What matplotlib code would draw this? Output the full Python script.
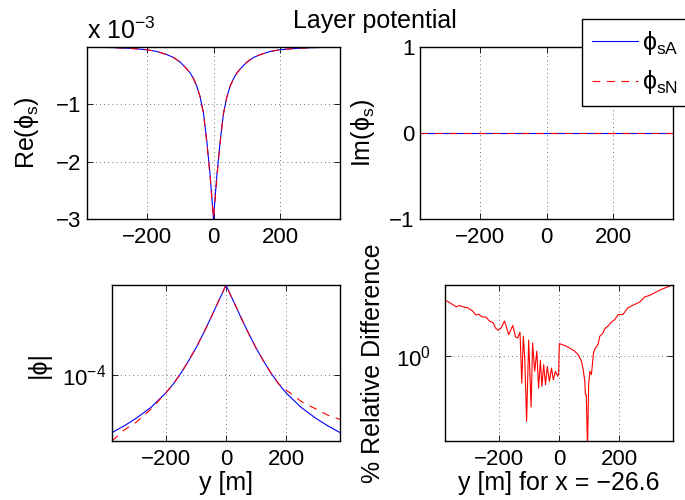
import matplotlib
matplotlib.use("Agg")
import matplotlib.pyplot as plt
from matplotlib.ticker import FixedLocator, NullLocator

plt.rcParams['font.family'] = ['Liberation Sans', 'DejaVu Sans']
plt.rcParams['mathtext.fontset'] = 'custom'
plt.rcParams['mathtext.rm'] = 'Liberation Sans'
plt.rcParams['mathtext.it'] = 'Liberation Sans:italic'
plt.rcParams['mathtext.bf'] = 'Liberation Sans:bold'
plt.rcParams['axes.unicode_minus'] = True

# --- data ---
# Re(phi_s), units of 1e-3
y_re = [-380, -300, -250, -200, -170, -140, -120, -100, -80, -70, -60, -50, -40, -30,
        -20, -15, -10, -5, 0, 5, 10, 15, 20, 30, 40, 50, 60, 70, 80, 100, 120, 140,
        170, 200, 250, 300, 380]
re_A = [-0.007, -0.018, -0.03, -0.055, -0.085, -0.14, -0.19, -0.27, -0.39, -0.46, -0.56,
        -0.69, -0.88, -1.16, -1.65, -1.95, -2.25, -2.62, -3.0, -2.62, -2.25, -1.95, -1.65,
        -1.16, -0.88, -0.69, -0.56, -0.46, -0.39, -0.27, -0.19, -0.14, -0.085, -0.055,
        -0.03, -0.018, -0.007]
re_N = [-0.007, -0.018, -0.03, -0.055, -0.085, -0.14, -0.19, -0.27, -0.39, -0.46, -0.56,
        -0.69, -0.88, -1.17, -1.67, -1.97, -2.28, -2.66, -2.98, -2.66, -2.28, -1.97, -1.67,
        -1.17, -0.88, -0.69, -0.56, -0.46, -0.39, -0.27, -0.19, -0.14, -0.085, -0.055,
        -0.03, -0.018, -0.007]

# Im(phi_s)
y_im = [-380, 0, 380]
im_A = [0.0, 0.0, 0.0]
im_N = [0.0, 0.0, 0.0]

# |phi|
y_abs = [-380, -340, -300, -250, -200, -175, -150, -125, -100, -75, -50, -30, -15, 0,
         15, 30, 50, 75, 100, 125, 150, 175, 200, 250, 300, 340, 380]
abs_A = [2.69e-5, 3.13e-5, 3.72e-5, 4.79e-5, 6.68e-5, 8.22e-5, 1.047e-4, 1.38e-4, 1.86e-4,
         2.60e-4, 3.72e-4, 5.01e-4, 6.24e-4, 7.82e-4, 6.24e-4, 5.01e-4, 3.72e-4, 2.60e-4,
         1.86e-4, 1.38e-4, 1.047e-4, 8.22e-5, 6.68e-5, 4.79e-5, 3.72e-5, 3.13e-5, 2.69e-5]
abs_N = [2.22e-5, 2.85e-5, 3.40e-5, 4.60e-5, 6.68e-5, 8.22e-5, 1.047e-4, 1.38e-4, 1.86e-4,
         2.60e-4, 3.72e-4, 5.01e-4, 6.24e-4, 7.82e-4, 6.24e-4, 5.01e-4, 3.72e-4, 2.60e-4,
         1.86e-4, 1.38e-4, 1.047e-4, 8.22e-5, 7.14e-5, 5.50e-5, 4.60e-5, 4.00e-5, 3.63e-5]

# % relative difference
y_rel = [-379, -360, -343, -332, -321, -304, -288, -277, -268, -257, -243, -232, -219,
         -212, -203, -193, -182, -176, -168, -154, -145, -138, -130, -124, -119, -114,
         -108, -101, -93, -88, -81, -74, -68, -62, -57, -51, -45, -39, -32, -25, -19,
         -12, -4, -1, 1, 19, 36, 52, 64, 75, 81, 86, 88, 91, 95, 99, 103, 108, 115, 121,
         130, 136, 147, 152, 163, 175, 186, 197, 213, 230, 252, 269, 286, 302, 319, 341,
         363, 380]
rel = [3.58, 3.31, 3.07, 3.16, 3.07, 3.00, 2.78, 2.54, 2.59, 2.44, 2.42, 2.21, 2.12,
       1.89, 1.79, 1.89, 2.21, 1.97, 1.62, 2.00, 1.54, 1.50, 1.71, 0.533, 1.56, 0.912,
       0.221, 1.43, 0.307, 1.34, 0.698, 1.11, 0.475, 0.90, 0.494, 0.813, 0.513, 0.783,
       0.555, 0.753, 0.575, 0.698, 0.622, 0.671, 1.32, 1.26, 1.19, 1.11, 1.02, 0.879,
       0.714, 0.555, 0.407, 0.407, 0.12, 0.533, 0.698, 0.646, 1.06, 1.19, 1.29, 1.56,
       1.69, 1.85, 1.97, 2.16, 2.29, 2.57, 2.57, 3.00, 3.24, 3.42, 3.86, 3.98, 4.24,
       4.57, 4.86, 5.09]

xticks = [-200, 0, 200]
FS = 16      # tick labels
LFS = 18     # labels, title, legend
W, H = 685, 500
DASH = (0, (7, 6))

fig = plt.figure(figsize=(6.85, 5.0), dpi=100)


def box(l, t, r, b):
    return [l / W, 1 - b / H, (r - l) / W, (b - t) / H]


def style(ax, pad_y=4):
    ax.set_xlim(-380, 380)
    ax.xaxis.set_major_locator(FixedLocator(xticks))
    ax.xaxis.set_minor_locator(NullLocator())
    ax.yaxis.set_minor_locator(NullLocator())
    ax.tick_params(direction='in', length=4, width=0.6, top=True, right=True,
                   labelsize=FS, colors='black')
    ax.tick_params(axis='x', pad=6)
    ax.tick_params(axis='y', pad=pad_y)
    ax.grid(True, color='0.25', linestyle=(0, (1, 4)), linewidth=0.6)
    for s in ax.spines.values():
        s.set_linewidth(1.0)


def vlabel(x, y, s):
    fig.text(x / W, 1 - y / H, s, fontsize=LFS, rotation=90, ha='center', va='center')


# top left: real part
ax1 = fig.add_axes(box(87, 47, 340, 219))
ax1.plot(y_re, re_A, color='blue', lw=0.8)
ax1.plot(y_re, re_N, color='red', lw=0.8, ls=DASH)
style(ax1)
ax1.set_ylim(-3.0, max(re_A))
ax1.yaxis.set_major_locator(FixedLocator([-3, -2, -1]))
fig.text(87 / W, 1 - 39 / H, 'x 10$^{\u22123}$', fontsize=LFS, va='baseline', ha='left')
vlabel(27, 133, 'Re(\u03d5$_{\\rm s}$)')

# top right: imaginary part
ax2 = fig.add_axes(box(420, 47, 673, 219))
lA, = ax2.plot(y_im, im_A, color='blue', lw=0.8)
lN, = ax2.plot(y_im, im_N, color='red', lw=0.8, ls=DASH)
style(ax2)
ax2.set_ylim(-1, 1)
ax2.yaxis.set_major_locator(FixedLocator([-1, 0, 1]))
vlabel(363, 133, 'Im(\u03d5$_{\\rm s}$)')

leg = ax2.legend([lA, lN], ['\u03d5$_{\\rm sA}$', '\u03d5$_{\\rm sN}$'], loc='upper left',
                 bbox_to_anchor=(582 / W, 1 - 19 / H), bbox_transform=fig.transFigure,
                 borderaxespad=0, fontsize=LFS, handlelength=1.85, handletextpad=0.15,
                 labelspacing=0.45, borderpad=0.4, fancybox=False, framealpha=1,
                 edgecolor='black')
leg.get_frame().set_linewidth(1.0)

fig.text(375 / W, 1 - 28 / H, 'Layer potential', fontsize=LFS, ha='center', va='baseline')

# bottom left: magnitude
ax3 = fig.add_axes(box(112, 285, 340, 441))
ax3.semilogy(y_abs, abs_A, color='blue', lw=0.8)
ax3.semilogy(y_abs, abs_N, color='red', lw=0.8, ls=DASH)
style(ax3)
ax3.set_ylim(min(abs_N), max(abs_A))
ax3.yaxis.set_major_locator(FixedLocator([1e-4]))
ax3.yaxis.set_minor_locator(NullLocator())
vlabel(39, 365, '|\u03d5|')
fig.text(226 / W, 1 - 490 / H, 'y [m]', fontsize=LFS, ha='center', va='baseline')

# bottom right: relative difference
ax4 = fig.add_axes(box(445, 285, 673, 441))
ax4.semilogy(y_rel, rel, color='red', lw=0.8)
style(ax4, pad_y=10)
ax4.set_ylim(0.141, 5.06)
ax4.yaxis.set_major_locator(FixedLocator([1.0]))
ax4.yaxis.set_minor_locator(NullLocator())
vlabel(373, 363, '% Relative Difference')
fig.text(559 / W, 1 - 490 / H, 'y [m] for x = \u221226.6', fontsize=LFS, ha='center',
         va='baseline')

fig.savefig('out.png', dpi=100)
